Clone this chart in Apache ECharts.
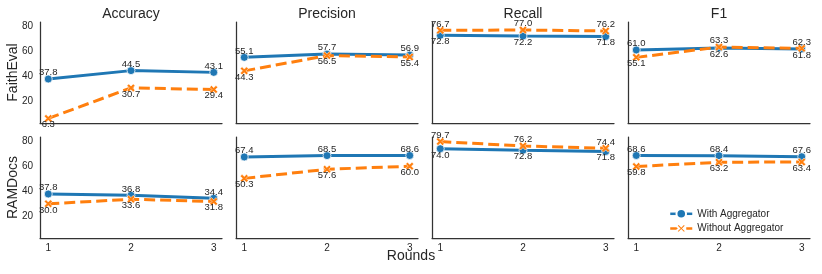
<!DOCTYPE html>
<html><head><meta charset="utf-8">
<script src="https://cdn.jsdelivr.net/npm/echarts@6/dist/echarts.min.js"></script>
<style>html,body{margin:0;padding:0;background:#fff}#c{width:822px;height:274px}</style>
</head><body><div id="c"></div><script>
// ---- data ----
const rounds = [1, 2, 3];
const metrics = ['Accuracy', 'Precision', 'Recall', 'F1'];
const datasets = ['FaithEval', 'RAMDocs'];
const seriesNames = ['With Aggregator', 'Without Aggregator'];
const yTicks = [20, 40, 60, 80];
const xTicks = [1, 2, 3];

const faithAccWith = [37.8, 44.5, 43.1];
const faithAccWithout = [6.3, 30.7, 29.4];
const faithPrecWith = [55.1, 57.7, 56.9];
const faithPrecWithout = [44.3, 56.5, 55.4];
const faithRecWith = [72.8, 72.2, 71.8];
const faithRecWithout = [76.7, 77.0, 76.2];
const faithF1With = [61.0, 62.6, 61.8];
const faithF1Without = [55.1, 63.3, 62.3];

const ramAccWith = [37.8, 36.8, 34.4];
const ramAccWithout = [30.0, 33.6, 31.8];
const ramPrecWith = [67.4, 68.5, 68.6];
const ramPrecWithout = [50.3, 57.6, 60.0];
const ramRecWith = [74.0, 72.8, 71.8];
const ramRecWithout = [79.7, 76.2, 74.4];
const ramF1With = [68.6, 68.4, 67.6];
const ramF1Without = [59.8, 63.2, 63.4];

const panels = [
  [[faithAccWith, faithAccWithout], [faithPrecWith, faithPrecWithout], [faithRecWith, faithRecWithout], [faithF1With, faithF1Without]],
  [[ramAccWith, ramAccWithout], [ramPrecWith, ramPrecWithout], [ramRecWith, ramRecWithout], [ramF1With, ramF1Without]]
];

// ---- layout / style ----
const FONT = '"Liberation Sans", Arial, sans-serif';
const TXT = '#262626';
const BLUE = '#1f77b4', ORANGE = '#ff7f0e';
const XPATH = 'path://M0,2.2 L2.2,0 L5,2.8 L7.8,0 L10,2.2 L7.2,5 L10,7.8 L7.8,10 L5,7.2 L2.2,10 L0,7.8 L2.8,5 Z';
const gridLefts = [40, 236, 432, 628];
const gridTops = [22, 137];
const GW = 182, GH = 101;
const YMIN = 2.63, YMAX = 83.37;

const grids = [], xAxes = [], yAxes = [], series = [];
let idx = 0;
for (let r = 0; r < 2; r++) {
  for (let c = 0; c < 4; c++) {
    grids.push({left: gridLefts[c], top: gridTops[r], width: GW, height: GH});
    xAxes.push({
      gridIndex: idx, type: 'value', min: 0.9, max: 3.1,
      axisLine: {show: true, lineStyle: {color: '#333', width: 1.25}},
      axisTick: {show: false}, splitLine: {show: false},
      axisLabel: {show: r === 1, customValues: xTicks, color: TXT, fontSize: 10, fontFamily: FONT, margin: 5}
    });
    yAxes.push({
      gridIndex: idx, type: 'value', min: YMIN, max: YMAX,
      axisLine: {show: true, lineStyle: {color: '#333', width: 1.25}},
      axisTick: {show: false}, splitLine: {show: false},
      axisLabel: {show: c === 0, customValues: yTicks, color: TXT, fontSize: 10, fontFamily: FONT, margin: 7}
    });
    const [wArr, woArr] = panels[r][c];
    const mk = (arr, other) => arr.map((v, i) => {
      const above = v >= other[i];
      return {
        value: [rounds[i], v],
        label: {position: above ? 'top' : 'bottom', distance: -3}
      };
    });
    const labelCommon = {show: true, formatter: p => p.value[1].toFixed(1), color: TXT, fontSize: 9.5, fontFamily: FONT};
    series.push({
      name: seriesNames[0], type: 'line', xAxisIndex: idx, yAxisIndex: idx,
      data: mk(wArr, woArr), symbol: 'circle', symbolSize: 8,
      lineStyle: {color: BLUE, width: 3},
      itemStyle: {color: BLUE, borderColor: '#fff', borderWidth: 0.75},
      label: labelCommon, animation: false, z: 2
    });
    series.push({
      name: seriesNames[1], type: 'line', xAxisIndex: idx, yAxisIndex: idx,
      data: mk(woArr, wArr), symbol: XPATH, symbolSize: 8,
      lineStyle: {color: ORANGE, width: 3, type: [11, 5]},
      itemStyle: {color: ORANGE, borderColor: '#fff', borderWidth: 0.5},
      label: labelCommon, animation: false, z: 3
    });
    idx++;
  }
}

const graphics = [];
metrics.forEach((m, c) => {
  graphics.push({type: 'text', x: gridLefts[c] + GW / 2, y: 14,
    style: {text: m, fill: TXT, font: '14px ' + FONT, align: 'center', verticalAlign: 'middle'}});
});
datasets.forEach((d, r) => {
  graphics.push({type: 'text', x: 13, y: gridTops[r] + GH / 2, rotation: Math.PI / 2,
    style: {text: d, fill: TXT, font: '14px ' + FONT, align: 'center', verticalAlign: 'middle'}});
});
graphics.push({type: 'text', x: 411, y: 256,
  style: {text: 'Rounds', fill: TXT, font: '14px ' + FONT, align: 'center', verticalAlign: 'middle'}});

const chart = echarts.init(document.getElementById('c'), null, {renderer: 'canvas'});
chart.setOption({
  backgroundColor: '#fff',
  animation: false,
  grid: grids, xAxis: xAxes, yAxis: yAxes, series: series,
  graphic: graphics,
  legend: {
    orient: 'vertical', left: 664, top: 203, itemWidth: 22, itemHeight: 12, itemGap: 3,
    lineStyle: {width: 2.5},
    textStyle: {color: TXT, fontSize: 10, fontFamily: FONT},
    data: seriesNames
  }
});
</script></body></html>
